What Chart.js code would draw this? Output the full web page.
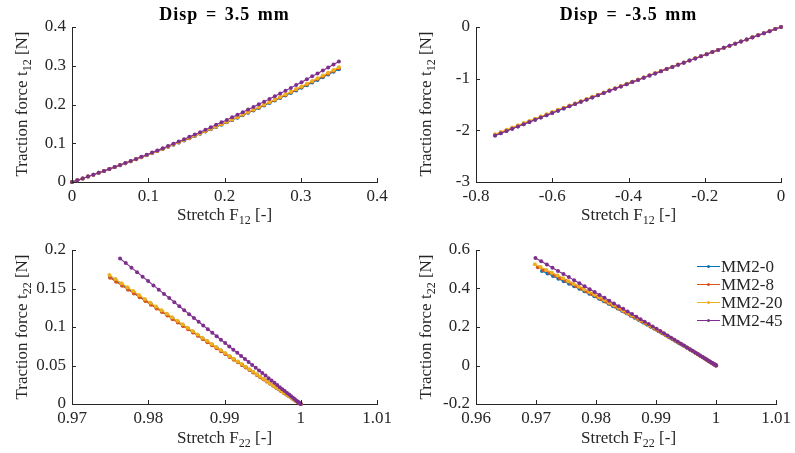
<!DOCTYPE html>
<html><head><meta charset="utf-8">
<script src="https://cdn.jsdelivr.net/npm/chart.js@4.4.1/dist/chart.umd.min.js"></script>
<style>
html,body{margin:0;padding:0;background:#fff;}
#wrap{position:relative;width:795px;height:453px;overflow:hidden;font-family:"Liberation Serif",serif;color:#262626;}
canvas{position:absolute;}
.t{position:absolute;white-space:nowrap;font-size:17px;line-height:1;}
.t sub{font-size:12px;vertical-align:-4px;line-height:0;}
.title{font-weight:bold;font-size:18px;letter-spacing:1px;word-spacing:2px;color:#000;}
.yl{transform:translate(-50%,-50%) rotate(-90deg);}
.xl{transform:translateX(-50%);}
.leg{position:absolute;left:697px;font-size:17px;font-family:"Liberation Serif",serif;}
.leg .row{position:absolute;left:0;height:18px;white-space:nowrap;}
.leg .ln{position:absolute;left:0;top:8px;width:23px;height:0;border-top:1px solid;}
.leg .dot{position:absolute;left:10px;top:7px;width:3px;height:3px;border-radius:50%;}
.leg .lab{position:absolute;left:24px;top:0;line-height:18px;}
</style></head>
<body><div id="wrap">
<canvas id="c1" width="397" height="225" style="left:0;top:0"></canvas>
<canvas id="c2" width="398" height="225" style="left:397px;top:0"></canvas>
<canvas id="c3" width="397" height="228" style="left:0;top:225px"></canvas>
<canvas id="c4" width="398" height="228" style="left:397px;top:225px"></canvas>

<div class="t title xl" style="left:224.5px;top:5px">Disp = 3.5 mm</div>
<div class="t title xl" style="left:628.5px;top:5px">Disp = -3.5 mm</div>
<div class="t xl" style="left:224.5px;top:206px">Stretch F<sub>12</sub> [-]</div>
<div class="t xl" style="left:628.5px;top:206px">Stretch F<sub>12</sub> [-]</div>
<div class="t xl" style="left:224.5px;top:429px">Stretch F<sub>22</sub> [-]</div>
<div class="t xl" style="left:628.5px;top:429px">Stretch F<sub>22</sub> [-]</div>
<div class="t yl" style="left:21px;top:104px">Traction force t<sub>12</sub> [N]</div>
<div class="t yl" style="left:425px;top:104px">Traction force t<sub>12</sub> [N]</div>
<div class="t yl" style="left:21px;top:327px">Traction force t<sub>22</sub> [N]</div>
<div class="t yl" style="left:425px;top:327px">Traction force t<sub>22</sub> [N]</div>
<div class="leg" id="legend" style="top:258px"></div>
</div>
<script>
// ---------- data ----------
const seriesNames = ['MM2-0','MM2-8','MM2-20','MM2-45'];
const seriesColors = ['#0072BD','#D95319','#EDB120','#7E2F8E'];

// Disp = 3.5 mm : shear stretch F12 and traction t12
const F12_pos = [0,0.007,0.014,0.021,0.028,0.035,0.042,0.049,0.056,0.063,0.07,0.077,0.084,0.091,0.098,0.105,0.112,0.119,0.126,0.133,0.14,0.147,0.154,0.161,0.168,0.175,0.182,0.189,0.196,0.203,0.21,0.217,0.224,0.231,0.238,0.245,0.252,0.259,0.266,0.273,0.28,0.287,0.294,0.301,0.308,0.315,0.322,0.329,0.336,0.343,0.35];
const t12_pos_MM2_0 = [0,0.0046,0.0093,0.0140,0.0188,0.0236,0.0285,0.0334,0.0384,0.0434,0.0484,0.0536,0.0587,0.0639,0.0692,0.0745,0.0799,0.0853,0.0907,0.0962,0.1018,0.1074,0.1130,0.1187,0.1245,0.1303,0.1361,0.1420,0.1480,0.1540,0.1600,0.1661,0.1723,0.1784,0.1847,0.1910,0.1973,0.2037,0.2101,0.2166,0.2232,0.2297,0.2364,0.2431,0.2498,0.2566,0.2634,0.2703,0.2772,0.2842,0.2912];
const t12_pos_MM2_8 = [0,0.0046,0.0093,0.0140,0.0188,0.0236,0.0285,0.0334,0.0385,0.0435,0.0485,0.0537,0.0588,0.0641,0.0694,0.0747,0.0802,0.0856,0.0910,0.0966,0.1022,0.1078,0.1135,0.1192,0.1251,0.1309,0.1368,0.1427,0.1488,0.1548,0.1609,0.1670,0.1733,0.1795,0.1858,0.1922,0.1986,0.2050,0.2115,0.2181,0.2248,0.2314,0.2381,0.2449,0.2517,0.2586,0.2655,0.2725,0.2795,0.2866,0.2937];
const t12_pos_MM2_20 = [0,0.0046,0.0093,0.0140,0.0188,0.0237,0.0286,0.0335,0.0385,0.0436,0.0486,0.0538,0.0590,0.0642,0.0696,0.0749,0.0804,0.0859,0.0913,0.0969,0.1026,0.1083,0.1139,0.1197,0.1256,0.1315,0.1374,0.1434,0.1495,0.1556,0.1618,0.1680,0.1743,0.1805,0.1870,0.1934,0.1998,0.2064,0.2129,0.2196,0.2263,0.2330,0.2399,0.2467,0.2536,0.2606,0.2675,0.2746,0.2817,0.2889,0.2961];
const t12_pos_MM2_45 = [0,0.0046,0.0093,0.0140,0.0188,0.0237,0.0286,0.0336,0.0387,0.0438,0.0490,0.0543,0.0596,0.0650,0.0705,0.0760,0.0816,0.0873,0.0930,0.0988,0.1046,0.1106,0.1165,0.1226,0.1287,0.1349,0.1412,0.1475,0.1539,0.1603,0.1669,0.1734,0.1801,0.1868,0.1936,0.2004,0.2074,0.2143,0.2214,0.2285,0.2357,0.2429,0.2502,0.2576,0.2651,0.2726,0.2802,0.2878,0.2955,0.3033,0.3111];

// Disp = -3.5 mm : shear stretch F12 and traction t12
const F12_neg = [0,-0.015,-0.03,-0.045,-0.06,-0.075,-0.09,-0.105,-0.12,-0.135,-0.15,-0.165,-0.18,-0.195,-0.21,-0.225,-0.24,-0.255,-0.27,-0.285,-0.3,-0.315,-0.33,-0.345,-0.36,-0.375,-0.39,-0.405,-0.42,-0.435,-0.45,-0.465,-0.48,-0.495,-0.51,-0.525,-0.54,-0.555,-0.57,-0.585,-0.6,-0.615,-0.63,-0.645,-0.66,-0.675,-0.69,-0.705,-0.72,-0.735,-0.75];
const t12_neg_MM2_0 = [0,-0.040,-0.080,-0.120,-0.160,-0.200,-0.241,-0.281,-0.322,-0.362,-0.403,-0.444,-0.485,-0.526,-0.567,-0.608,-0.649,-0.690,-0.732,-0.773,-0.815,-0.856,-0.898,-0.940,-0.982,-1.024,-1.066,-1.108,-1.150,-1.192,-1.235,-1.277,-1.320,-1.363,-1.405,-1.448,-1.491,-1.534,-1.577,-1.620,-1.663,-1.707,-1.750,-1.794,-1.837,-1.881,-1.925,-1.969,-2.013,-2.057,-2.100];
const t12_neg_MM2_8 = [0,-0.040,-0.080,-0.120,-0.160,-0.200,-0.241,-0.281,-0.322,-0.362,-0.403,-0.443,-0.484,-0.525,-0.566,-0.607,-0.648,-0.689,-0.730,-0.772,-0.813,-0.854,-0.896,-0.937,-0.979,-1.021,-1.062,-1.104,-1.147,-1.189,-1.230,-1.273,-1.315,-1.357,-1.400,-1.442,-1.485,-1.527,-1.570,-1.613,-1.655,-1.699,-1.741,-1.785,-1.828,-1.871,-1.914,-1.958,-2.001,-2.045,-2.088];
const t12_neg_MM2_20 = [0,-0.040,-0.080,-0.120,-0.160,-0.200,-0.241,-0.281,-0.321,-0.362,-0.402,-0.443,-0.483,-0.524,-0.565,-0.606,-0.646,-0.687,-0.728,-0.769,-0.811,-0.852,-0.893,-0.934,-0.976,-1.017,-1.059,-1.100,-1.142,-1.184,-1.225,-1.267,-1.309,-1.351,-1.393,-1.435,-1.477,-1.519,-1.562,-1.604,-1.646,-1.689,-1.731,-1.774,-1.817,-1.859,-1.902,-1.945,-1.988,-2.031,-2.074];
const t12_neg_MM2_45 = [0,-0.040,-0.080,-0.120,-0.160,-0.201,-0.241,-0.281,-0.322,-0.363,-0.403,-0.444,-0.485,-0.526,-0.567,-0.608,-0.649,-0.691,-0.732,-0.774,-0.815,-0.857,-0.899,-0.940,-0.982,-1.024,-1.066,-1.108,-1.151,-1.193,-1.235,-1.278,-1.321,-1.363,-1.406,-1.449,-1.492,-1.535,-1.578,-1.621,-1.664,-1.708,-1.751,-1.795,-1.838,-1.882,-1.926,-1.970,-2.014,-2.058,-2.102];

// Disp = 3.5 mm : normal stretch F22 and traction t22
const F22_pos_MM2_0 = [1,0.99995,0.99986,0.99972,0.99956,0.99937,0.99916,0.99892,0.99867,0.99839,0.99810,0.99778,0.99745,0.99710,0.99674,0.99636,0.99596,0.99555,0.99512,0.99468,0.99423,0.99376,0.99328,0.99278,0.99228,0.99175,0.99122,0.99067,0.99011,0.98954,0.98896,0.98836,0.98776,0.98714,0.98651,0.98587,0.98522,0.98456,0.98388,0.98320,0.98251,0.98180,0.98109,0.98036,0.97962,0.97888,0.97812,0.97736,0.97658,0.97579,0.97500];
const t22_pos_MM2_0 = [0,0.0003,0.0010,0.0018,0.0029,0.0041,0.0055,0.0071,0.0088,0.0106,0.0126,0.0146,0.0168,0.0191,0.0215,0.0240,0.0266,0.0294,0.0322,0.0351,0.0381,0.0412,0.0444,0.0476,0.0510,0.0544,0.0580,0.0616,0.0653,0.0690,0.0729,0.0768,0.0808,0.0849,0.0890,0.0932,0.0976,0.1019,0.1064,0.1109,0.1155,0.1201,0.1248,0.1296,0.1345,0.1394,0.1444,0.1494,0.1546,0.1598,0.1650];
const F22_pos_MM2_8 = [1,0.99995,0.99986,0.99972,0.99956,0.99937,0.99916,0.99892,0.99867,0.99839,0.99810,0.99778,0.99745,0.99710,0.99674,0.99636,0.99596,0.99555,0.99512,0.99468,0.99423,0.99376,0.99328,0.99278,0.99228,0.99175,0.99122,0.99067,0.99011,0.98954,0.98896,0.98836,0.98776,0.98714,0.98651,0.98587,0.98522,0.98456,0.98388,0.98320,0.98251,0.98180,0.98109,0.98036,0.97962,0.97888,0.97812,0.97736,0.97658,0.97579,0.97500];
const t22_pos_MM2_8 = [0,0.0003,0.0010,0.0018,0.0029,0.0041,0.0055,0.0071,0.0087,0.0106,0.0125,0.0145,0.0167,0.0190,0.0214,0.0239,0.0265,0.0292,0.0320,0.0349,0.0379,0.0409,0.0441,0.0473,0.0507,0.0541,0.0576,0.0612,0.0649,0.0686,0.0724,0.0763,0.0803,0.0844,0.0885,0.0927,0.0970,0.1013,0.1057,0.1102,0.1148,0.1194,0.1241,0.1288,0.1337,0.1386,0.1435,0.1485,0.1536,0.1588,0.1640];
const F22_pos_MM2_20 = [1,0.99995,0.99985,0.99972,0.99956,0.99937,0.99916,0.99892,0.99866,0.99839,0.99809,0.99777,0.99744,0.99709,0.99673,0.99634,0.99595,0.99553,0.99511,0.99466,0.99421,0.99374,0.99325,0.99275,0.99224,0.99172,0.99118,0.99063,0.99007,0.98950,0.98891,0.98832,0.98771,0.98709,0.98646,0.98581,0.98516,0.98450,0.98382,0.98313,0.98244,0.98173,0.98101,0.98028,0.97954,0.97879,0.97803,0.97727,0.97649,0.97570,0.97490];
const t22_pos_MM2_20 = [0,0.0003,0.0010,0.0019,0.0029,0.0042,0.0056,0.0072,0.0089,0.0108,0.0128,0.0149,0.0171,0.0194,0.0219,0.0244,0.0271,0.0298,0.0327,0.0356,0.0387,0.0418,0.0450,0.0484,0.0518,0.0553,0.0588,0.0625,0.0662,0.0701,0.0740,0.0780,0.0820,0.0862,0.0904,0.0947,0.0990,0.1035,0.1080,0.1126,0.1172,0.1219,0.1267,0.1316,0.1365,0.1415,0.1466,0.1517,0.1569,0.1622,0.1675];
const F22_pos_MM2_45 = [1,0.99995,0.99986,0.99974,0.99958,0.99940,0.99920,0.99898,0.99874,0.99848,0.99820,0.99790,0.99758,0.99725,0.99691,0.99655,0.99617,0.99578,0.99538,0.99496,0.99453,0.99409,0.99363,0.99316,0.99268,0.99218,0.99168,0.99116,0.99063,0.99009,0.98953,0.98897,0.98840,0.98781,0.98721,0.98661,0.98599,0.98536,0.98472,0.98407,0.98342,0.98275,0.98207,0.98138,0.98068,0.97998,0.97926,0.97853,0.97780,0.97705,0.97630];
const t22_pos_MM2_45 = [0,0.0004,0.0011,0.0021,0.0033,0.0047,0.0064,0.0081,0.0101,0.0122,0.0144,0.0168,0.0193,0.0219,0.0247,0.0275,0.0305,0.0336,0.0369,0.0402,0.0436,0.0472,0.0508,0.0546,0.0584,0.0623,0.0664,0.0705,0.0747,0.0791,0.0835,0.0880,0.0925,0.0972,0.1020,0.1068,0.1117,0.1167,0.1218,0.1270,0.1323,0.1376,0.1430,0.1485,0.1540,0.1597,0.1654,0.1712,0.1771,0.1830,0.1890];

// Disp = -3.5 mm : normal stretch F22 and traction t22
const F22_neg_MM2_0 = [1,0.99994,0.99983,0.99968,0.99949,0.99927,0.99902,0.99875,0.99845,0.99813,0.99779,0.99743,0.99704,0.99664,0.99622,0.99578,0.99532,0.99484,0.99434,0.99383,0.99331,0.99276,0.99220,0.99163,0.99104,0.99043,0.98981,0.98918,0.98853,0.98787,0.98719,0.98650,0.98580,0.98508,0.98435,0.98361,0.98285,0.98209,0.98131,0.98051,0.97971,0.97889,0.97806,0.97722,0.97636,0.97550,0.97462,0.97373,0.97283,0.97192,0.97100];
const t22_neg_MM2_0 = [0,0.0011,0.0033,0.0063,0.0099,0.0142,0.0189,0.0242,0.0299,0.0361,0.0426,0.0496,0.0569,0.0645,0.0725,0.0808,0.0894,0.0983,0.1075,0.1169,0.1266,0.1365,0.1467,0.1570,0.1676,0.1784,0.1894,0.2006,0.2120,0.2235,0.2352,0.2471,0.2590,0.2712,0.2834,0.2958,0.3083,0.3209,0.3336,0.3463,0.3592,0.3722,0.3852,0.3983,0.4114,0.4246,0.4378,0.4511,0.4644,0.4777,0.4910];
const F22_neg_MM2_8 = [1,0.99994,0.99983,0.99967,0.99948,0.99925,0.99900,0.99872,0.99842,0.99809,0.99774,0.99737,0.99697,0.99656,0.99613,0.99567,0.99520,0.99471,0.99421,0.99368,0.99314,0.99259,0.99201,0.99143,0.99082,0.99020,0.98957,0.98892,0.98825,0.98757,0.98688,0.98618,0.98546,0.98472,0.98398,0.98322,0.98244,0.98165,0.98085,0.98004,0.97922,0.97838,0.97753,0.97667,0.97579,0.97491,0.97401,0.97310,0.97218,0.97124,0.97030];
const t22_neg_MM2_8 = [0,0.0011,0.0034,0.0064,0.0102,0.0145,0.0194,0.0248,0.0307,0.0370,0.0437,0.0508,0.0583,0.0662,0.0744,0.0829,0.0917,0.1009,0.1103,0.1200,0.1300,0.1402,0.1507,0.1614,0.1723,0.1835,0.1949,0.2065,0.2182,0.2302,0.2423,0.2546,0.2670,0.2796,0.2923,0.3052,0.3182,0.3313,0.3446,0.3579,0.3714,0.3849,0.3985,0.4123,0.4260,0.4399,0.4538,0.4678,0.4818,0.4958,0.5099];
const F22_neg_MM2_20 = [1,0.99994,0.99982,0.99966,0.99947,0.99924,0.99898,0.99870,0.99839,0.99806,0.99770,0.99732,0.99692,0.99650,0.99606,0.99560,0.99512,0.99463,0.99411,0.99358,0.99303,0.99246,0.99188,0.99128,0.99067,0.99004,0.98939,0.98873,0.98806,0.98737,0.98666,0.98594,0.98521,0.98447,0.98371,0.98293,0.98214,0.98135,0.98053,0.97971,0.97887,0.97802,0.97715,0.97627,0.97539,0.97449,0.97357,0.97265,0.97171,0.97076,0.96980];
const t22_neg_MM2_20 = [0,0.0011,0.0034,0.0065,0.0103,0.0148,0.0197,0.0252,0.0312,0.0376,0.0445,0.0517,0.0594,0.0674,0.0758,0.0844,0.0935,0.1028,0.1125,0.1224,0.1326,0.1431,0.1538,0.1648,0.1760,0.1874,0.1991,0.2110,0.2231,0.2353,0.2478,0.2605,0.2733,0.2863,0.2994,0.3127,0.3262,0.3397,0.3535,0.3673,0.3813,0.3954,0.4095,0.4238,0.4382,0.4526,0.4672,0.4818,0.4965,0.5112,0.5260];
const F22_neg_MM2_45 = [1,0.99994,0.99983,0.99967,0.99947,0.99924,0.99899,0.99870,0.99840,0.99806,0.99771,0.99733,0.99693,0.99651,0.99607,0.99562,0.99514,0.99464,0.99413,0.99360,0.99305,0.99249,0.99191,0.99131,0.99070,0.99007,0.98943,0.98877,0.98810,0.98741,0.98671,0.98599,0.98526,0.98452,0.98376,0.98299,0.98220,0.98141,0.98060,0.97977,0.97894,0.97809,0.97723,0.97635,0.97547,0.97457,0.97366,0.97274,0.97180,0.97086,0.96990];
const t22_neg_MM2_45 = [0,0.0011,0.0034,0.0065,0.0103,0.0147,0.0197,0.0252,0.0312,0.0376,0.0445,0.0518,0.0595,0.0676,0.0761,0.0849,0.0940,0.1035,0.1134,0.1235,0.1340,0.1447,0.1557,0.1670,0.1786,0.1905,0.2026,0.2150,0.2276,0.2405,0.2536,0.2669,0.2804,0.2942,0.3082,0.3225,0.3369,0.3515,0.3663,0.3813,0.3965,0.4119,0.4275,0.4432,0.4591,0.4752,0.4914,0.5078,0.5244,0.5411,0.5580];

// tick values and labels
const tl_xTicks = [0,0.1,0.2,0.3,0.4], tl_xLabels = ['0','0.1','0.2','0.3','0.4'];
const tl_yTicks = [0,0.1,0.2,0.3,0.4], tl_yLabels = ['0','0.1','0.2','0.3','0.4'];
const tr_xTicks = [-0.8,-0.6,-0.4,-0.2,0], tr_xLabels = ['-0.8','-0.6','-0.4','-0.2','0'];
const tr_yTicks = [-3,-2,-1,0], tr_yLabels = ['-3','-2','-1','0'];
const bl_xTicks = [0.97,0.98,0.99,1,1.01], bl_xLabels = ['0.97','0.98','0.99','1','1.01'];
const bl_yTicks = [0,0.05,0.1,0.15,0.2], bl_yLabels = ['0','0.05','0.1','0.15','0.2'];
const br_xTicks = [0.96,0.97,0.98,0.99,1,1.01], br_xLabels = ['0.96','0.97','0.98','0.99','1','1.01'];
const br_yTicks = [-0.2,0,0.2,0.4,0.6], br_yLabels = ['-0.2','0','0.2','0.4','0.6'];

// ---------- drawing ----------
const AX = '#262626';
Chart.defaults.font.family = "Liberation Serif";
Chart.defaults.font.size = 17;
const FONT = {family:"Liberation Serif", size:17};

const inwardTicks = {
  id:'inwardTicks',
  afterDraw(chart){
    const {ctx, chartArea:a, scales:{x,y}} = chart;
    ctx.save();
    ctx.strokeStyle = AX; ctx.lineWidth = 1;
    ctx.beginPath();
    x.ticks.forEach(t=>{ const px = Math.round(x.getPixelForValue(t.value))+0.5; ctx.moveTo(px,a.bottom); ctx.lineTo(px,a.bottom-4); });
    y.ticks.forEach(t=>{ const py = Math.round(y.getPixelForValue(t.value))+0.5; ctx.moveTo(a.left,py); ctx.lineTo(a.left+4,py); });
    ctx.stroke();
    ctx.restore();
  }
};

function mkDatasets(xsList, ysList){
  return seriesNames.map((name,i)=>({
    label:name,
    data: ysList[i].map((v,j)=>({x: xsList[i][j], y: v})),
    borderColor: seriesColors[i],
    backgroundColor: seriesColors[i],
    borderWidth: 1.1,
    pointRadius: 2,
    pointBorderWidth: 0,
    pointHoverRadius: 2,
    tension: 0,
    clip: false,
    order: 3-i
  }));
}

function axis(min,max,ticks,labels,fixed,isX){
  return {
    type:'linear', min, max,
    afterBuildTicks(s){ s.ticks = ticks.map(v=>({value:v})); },
    afterFit(s){ if(isX) s.height = fixed; else s.width = fixed; },
    grid:{display:false, drawTicks:false},
    border:{display:true, color:AX, width:1},
    ticks:{
      color:AX, font:FONT, padding: isX ? 4 : 6,
      maxRotation:0, autoSkip:false,
      callback(v){ const k = ticks.findIndex(t=>Math.abs(t-v)<1e-9); return k>=0 ? labels[k] : ''; }
    }
  };
}

function mk(id, datasets, xs, ys, pad){
  new Chart(document.getElementById(id), {
    type:'line',
    data:{datasets},
    options:{
      responsive:false, animation:false, events:[],
      layout:{padding:pad},
      plugins:{legend:{display:false}, tooltip:{enabled:false}, title:{display:false}},
      scales:{x:xs, y:ys}
    },
    plugins:[inwardTicks]
  });
}

mk('c1', mkDatasets([F12_pos,F12_pos,F12_pos,F12_pos],[t12_pos_MM2_0,t12_pos_MM2_8,t12_pos_MM2_20,t12_pos_MM2_45]),
   axis(0,0.4,tl_xTicks,tl_xLabels,43,true), axis(0,0.4,tl_yTicks,tl_yLabels,72,false),
   {top:27,right:20,left:0,bottom:0});
mk('c2', mkDatasets([F12_neg,F12_neg,F12_neg,F12_neg],[t12_neg_MM2_0,t12_neg_MM2_8,t12_neg_MM2_20,t12_neg_MM2_45]),
   axis(-0.8,0,tr_xTicks,tr_xLabels,43,true), axis(-3,0,tr_yTicks,tr_yLabels,79,false),
   {top:27,right:14,left:0,bottom:0});
mk('c3', mkDatasets([F22_pos_MM2_0,F22_pos_MM2_8,F22_pos_MM2_20,F22_pos_MM2_45],[t22_pos_MM2_0,t22_pos_MM2_8,t22_pos_MM2_20,t22_pos_MM2_45]),
   axis(0.97,1.01,bl_xTicks,bl_xLabels,49,true), axis(0,0.2,bl_yTicks,bl_yLabels,72,false),
   {top:25,right:20,left:0,bottom:0});
mk('c4', mkDatasets([F22_neg_MM2_0,F22_neg_MM2_8,F22_neg_MM2_20,F22_neg_MM2_45],[t22_neg_MM2_0,t22_neg_MM2_8,t22_neg_MM2_20,t22_neg_MM2_45]),
   axis(0.96,1.01,br_xTicks,br_xLabels,49,true), axis(-0.2,0.6,br_yTicks,br_yLabels,79,false),
   {top:25,right:14,left:0,bottom:0});

// legend
const leg = document.getElementById('legend');
seriesNames.forEach((n,i)=>{
  const r = document.createElement('div');
  r.className='row'; r.style.top = (i*18.1)+'px';
  r.innerHTML = '<span class="ln" style="border-color:'+seriesColors[i]+'"></span><span class="dot" style="background:'+seriesColors[i]+'"></span><span class="lab">'+n+'</span>';
  leg.appendChild(r);
});
</script>
</body></html>
